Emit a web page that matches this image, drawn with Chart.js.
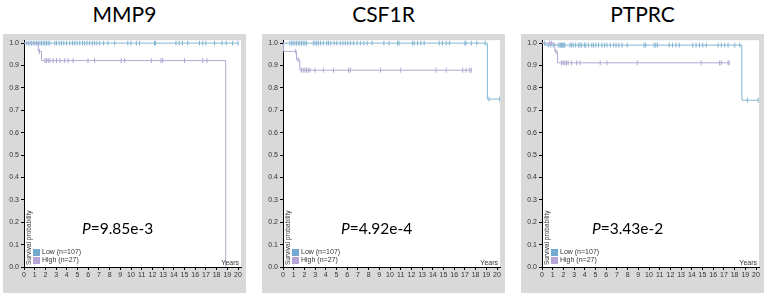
<!DOCTYPE html>
<html><head><meta charset="utf-8">
<script src="https://cdn.jsdelivr.net/npm/chart.js@4.4.1/dist/chart.umd.min.js"></script>
<style>
body{margin:0;background:#fff;width:768px;height:298px;overflow:hidden;position:relative;font-family:"Liberation Sans",Arial,sans-serif}
.title{position:absolute;top:0;width:243px;height:28px;line-height:28px;text-align:center;font-family:Lato,"Open Sans",sans-serif;font-size:21px;color:#000}
.panel{position:absolute;top:34px;width:243px;height:259px;background:#d9d9d9}
.panel canvas{position:absolute;left:0;top:0}
.pval{position:absolute;font-family:Lato,"Open Sans",sans-serif;font-size:15.5px;line-height:17px;color:#000;white-space:nowrap}
</style></head><body>
<script>
// ---- tick labels ----
const yTicks = [0,0.1,0.2,0.3,0.4,0.5,0.6,0.7,0.8,0.9,1.0];
const xTicks = [0,1,2,3,4,5,6,7,8,9,10,11,12,13,14,15,16,17,18,19,20];
const genes = ["MMP9","CSF1R","PTPRC"];
const pValues = ["=9.85e-3","=4.92e-4","=3.43e-2"];
const legendLabels = ["Low (n=107)","High (n=27)"];

// ---- MMP9 ----
const mmp9LowT = [0, 20.1];
const mmp9LowS = [1, 1];
const mmp9LowCens = [0.25,0.4,0.56,0.71,0.87,1.02,1.18,1.33,1.49,1.64,1.8,1.95,2.1,2.26,2.42,2.88,3.04,3.29,3.5,3.72,3.97,4.28,4.53,4.74,4.96,5.21,5.46,5.67,5.89,6.14,6.39,6.6,6.82,7.07,7.44,7.84,8.47,9.7,10.0,10.5,10.8,12.2,12.3,14.2,14.5,14.8,15.3,16.4,16.7,17.0,17.8,18.5,18.9,19.5,20.0];
const mmp9HighT = [0, 1.33, 1.64, 18.85];
const mmp9HighS = [1, 0.963, 0.922, 0];
const mmp9HighCens = [1.45,1.95,2.1,2.26,2.42,2.73,3.04,3.35,3.81,4.12,4.59,5.98,6.6,9.09,9.4,11.9,12.8,12.96,15.0,16.7,17.1];

// ---- CSF1R ----
const csf1rLowT = [0, 19.1, 20.28];
const csf1rLowS = [1, 0.75, 0.75];
const csf1rLowCens = [0.63,0.79,0.94,1.1,1.26,1.42,1.57,1.73,1.89,2.04,2.2,2.83,2.99,3.14,3.3,3.52,3.77,4.09,4.25,4.47,4.78,5.03,5.35,5.6,5.82,6.04,6.29,6.6,6.92,7.23,7.55,7.86,8.33,9.43,9.91,10.7,10.85,12.1,12.26,12.58,12.89,13.2,14.6,14.9,15.25,15.57,17.0,17.1,17.6,18.1,18.9,19.25,20.25];
const csf1rHighT = [0, 0.05, 1.26, 1.57, 17.6];
const csf1rHighS = [1, 0.963, 0.926, 0.879, 0.879];
const csf1rHighCens = [1.19,1.42,1.73,1.89,2.04,2.2,2.36,2.52,2.99,3.77,4.72,6.13,6.29,9.12,11.0,14.3,15.25,16.8,17.1,17.45,17.6];

// ---- PTPRC ----
const ptprcLowT = [0, 0.3, 18.68, 20.2];
const ptprcLowS = [1, 0.991, 0.745, 0.745];
const ptprcLowCens = [0.25,0.57,0.82,1.04,1.51,1.67,1.75,1.82,1.9,1.98,2.06,2.14,2.61,2.77,2.92,3.14,3.4,3.55,3.71,3.96,4.09,4.34,4.65,4.81,5.03,5.28,5.6,5.85,6.07,6.38,6.7,6.92,7.17,7.48,7.96,9.53,9.69,10.47,10.63,10.79,11.89,12.2,12.52,12.83,14.09,14.4,14.72,15.03,15.35,16.45,16.76,17.08,17.39,18.02,18.49,19.2,20.2];
const ptprcHighT = [0, 1.2, 1.45, 17.5];
const ptprcHighS = [1, 0.963, 0.912, 0.912];
const ptprcHighCens = [0.72,0.88,1.3,1.82,1.98,2.14,2.3,2.45,2.77,3.24,3.55,5.44,6.07,8.9,14.87,16.6,16.76,17.39,17.5];

// ---- layout / style (not data) ----
const panelLeft = [3, 262, 521];
const pLeft = [79, 79, 71];
const pTop = 186;
const lowLine = '#84b5d3', highLine = '#b3a8d3';
const lowBox = '#74a9cf', highBox = '#b7a4d6';

const series = [
  {lt:mmp9LowT, ls:mmp9LowS, lc:mmp9LowCens, ht:mmp9HighT, hs:mmp9HighS, hc:mmp9HighCens},
  {lt:csf1rLowT, ls:csf1rLowS, lc:csf1rLowCens, ht:csf1rHighT, hs:csf1rHighS, hc:csf1rHighCens},
  {lt:ptprcLowT, ls:ptprcLowS, lc:ptprcLowCens, ht:ptprcHighT, hs:ptprcHighS, hc:ptprcHighCens},
];

function stepAt(T, S, t){ let v = S[0]; for(let i=0;i<T.length;i++){ if(T[i]<=t) v=S[i]; } return v; }
function curve(T,S){ return T.map((t,i)=>({x:t,y:S[i]})); }
function cens(C,T,S){ return C.map(t=>({x:t,y:stepAt(T,S,t)})); }

const decor = {
  id:'decor',
  beforeDraw(chart){
    const {ctx, chartArea:a} = chart;
    ctx.save(); ctx.fillStyle='#fff';
    ctx.fillRect(a.left, a.top, a.right-a.left, a.bottom-a.top);
    ctx.restore();
  },
  afterDraw(chart){
    const {ctx, chartArea:a, scales} = chart;
    ctx.save();
    ctx.font = '7px "Liberation Sans", Arial, sans-serif';
    ctx.fillStyle = '#333';
    ctx.textAlign='right'; ctx.textBaseline='alphabetic';
    ctx.fillText('Years', scales.x.getPixelForValue(20)+1, a.bottom-2);
    ctx.save();
    ctx.translate(a.left+7, a.bottom-2);
    ctx.rotate(-Math.PI/2);
    ctx.textAlign='left'; ctx.textBaseline='alphabetic';
    ctx.font = '6.5px "Liberation Sans", Arial, sans-serif';
    ctx.fillText('Survival probability', 0, 0);
    ctx.restore();
    const lx = a.left+9;
    ctx.fillStyle = lowBox; ctx.fillRect(lx, a.bottom-18, 7, 7);
    ctx.fillStyle = highBox; ctx.fillRect(lx, a.bottom-10, 7, 7);
    ctx.fillStyle = '#333'; ctx.textAlign='left'; ctx.textBaseline='middle';
    ctx.font = '7px "Liberation Sans", Arial, sans-serif';
    ctx.fillText(legendLabels[0], lx+9, a.bottom-14.5);
    ctx.fillText(legendLabels[1], lx+9, a.bottom-6.5);
    ctx.restore();
  }
};

genes.forEach((g, i) => {
  const t = document.createElement('div');
  t.className='title'; t.style.left = panelLeft[i]+'px'; t.textContent = g;
  document.body.appendChild(t);
  const p = document.createElement('div');
  p.className='panel'; p.style.left = panelLeft[i]+'px';
  const c = document.createElement('canvas');
  c.width = 243; c.height = 259; c.style.width='243px'; c.style.height='259px';
  p.appendChild(c);
  const pv = document.createElement('div');
  pv.className='pval'; pv.style.left = pLeft[i]+'px'; pv.style.top = pTop+'px';
  pv.innerHTML = '<i>P</i>' + pValues[i];
  p.appendChild(pv);
  document.body.appendChild(p);
  const s = series[i];
  new Chart(c.getContext('2d'), {
    type:'scatter',
    data:{datasets:[
      {data:curve(s.lt,s.ls), showLine:true, stepped:true, borderColor:lowLine, borderWidth:1, pointRadius:0, order:2},
      {data:curve(s.ht,s.hs), showLine:true, stepped:true, borderColor:highLine, borderWidth:1, pointRadius:0, order:1},
      {data:cens(s.lc,s.lt,s.ls), showLine:false, pointStyle:'line', rotation:90, radius:2.5, borderColor:lowLine, borderWidth:1, order:2},
      {data:cens(s.hc,s.ht,s.hs), showLine:false, pointStyle:'line', rotation:90, radius:2.5, borderColor:highLine, borderWidth:1, order:1},
    ]},
    options:{
      responsive:false, animation:false, devicePixelRatio:1,
      layout:{padding:{top:5,right:5,left:0,bottom:0}},
      plugins:{legend:{display:false}, tooltip:{enabled:false}},
      scales:{
        x:{type:'linear', min:0, max:20.28,
           afterBuildTicks:(sc)=>{ sc.ticks = xTicks.map(v=>({value:v})); },
           afterFit:(sc)=>{ sc.height = 26; },
           grid:{display:true, drawOnChartArea:false, drawTicks:true, tickLength:3, color:'#000'},
           border:{display:true, color:'#000', width:1},
           ticks:{font:{size:7, family:'"Liberation Sans", Arial, sans-serif'}, color:'#333', padding:1, maxRotation:0, autoSkip:false, callback:(v)=>String(v)}},
        y:{type:'linear', min:0, max:1.013,
           afterBuildTicks:(sc)=>{ sc.ticks = yTicks.map(v=>({value:v})); },
           afterFit:(sc)=>{ sc.width = 21; },
           grid:{display:true, drawOnChartArea:false, drawTicks:true, tickLength:3, color:'#000'},
           border:{display:true, color:'#000', width:1},
           ticks:{font:{size:7, family:'"Liberation Sans", Arial, sans-serif'}, color:'#333', padding:2, autoSkip:false, callback:(v)=>Number(v).toFixed(1)}}
      }
    },
    plugins:[decor]
  });
});
</script>
</body></html>
